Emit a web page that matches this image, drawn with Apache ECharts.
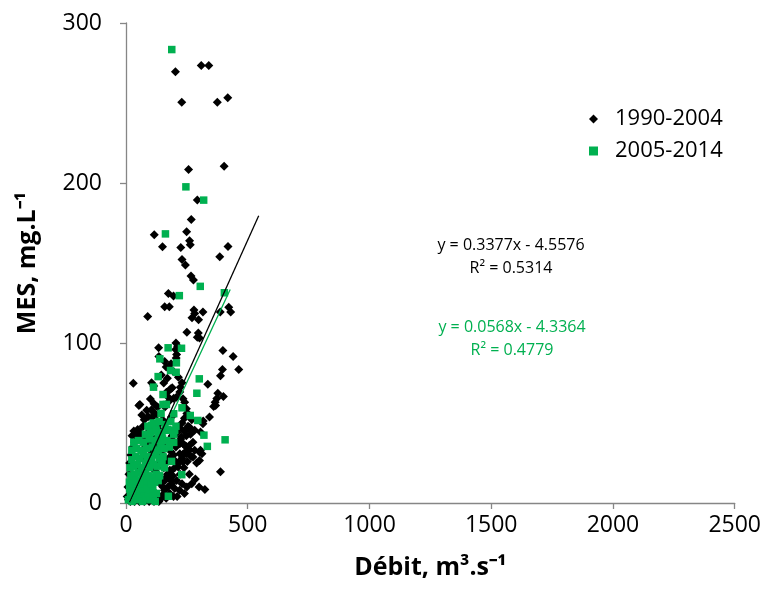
<!DOCTYPE html>
<html>
<head>
<meta charset="utf-8">
<script src="https://cdn.jsdelivr.net/npm/echarts@6/dist/echarts.min.js"></script>
<style>html,body{margin:0;padding:0;background:#fff;}#c{width:764px;height:591px;}</style>
</head>
<body>
<div id="c"></div>
<script>
// Series 1990-2004 (black diamonds): [débit, MES]
const series1990 = [
  [309,273.5],[340,273.5],[203,269.5],[229,250.4],[375,250.4],[418,253.3],[257,208.4],[403,210.5],
  [293,189.3],[268,177.2],[116,167.6],[249,169.5],[261,163.9],[264,161.4],[150,160.2],[225,159.7],[419,160.3],[385,153.9],
  [230,152.2],[244,148.7],[267,141.9],[277,139.4],[174,131],[195,129.4],[159,122.7],[178,122.7],[89,116.5],[279,120.6],
  [282,118.5],[316,119.4],[271,115.8],[298,114.6],[387,119.4],[422,122.3],[430,119.4],[250,106.7],[297,106.3],[293,103.6],
  [302,103.2],[134,97],[204,95.9],[208,92.8],[206,90.7],[159,88.4],[398,95.3],[440,91.5],[396,83.4],[463,83.4],[388,79.5],
  [215,78.6],[30,74.9],[105,75.1],[114,73.2],[336,74.2],[377,68.6],[400,66.6],[373,65.3],[366,63],[360,60.3],[368,61],
  [166,69.2],[179,70.7],[223,72.4],[230,75.1],[53,60.9],[180,64.1],[196,65.4],[105,58.3],[112,56.8],[187,53.7],[317,51.2],
  [256,46.8],[245,45.3],[312,30.8],[302,31.8],[248,35.3],[261,33.3],[234,30.5],[388,19.6],[300,10],[324,8.5],[133,3],[112,2],
  [135,91.5],[57,61.6],[306,44.3],[306,32.9],[91,54],[105,53.3],
  [184,71.4],[221,69.3],[207,66.1],[234,65.1],[241,63],[248,58.9],[255,55.8],[261,47.4],[282,45.4],[227,41.2],[221,37],
  [241,36],[255,32.9],[221,30.8],[200,26.6],[234,25.6],[214,22.5],[180,20.4],[166,16.2],[187,14.2],[152,10],[248,30.8],
  [275,28.7],[302,26.6],[316,49.5],[343,53.7],
  [25,42],[32,45],[40,43],[48,46],[55,41],[60,44],[35,38],[28,35],[45,39],[20,30],[15,25],[12,18],[8,10],[5,4],[10,2],
  [18,1],[25,3],[35,1],[45,2],[55,1],[65,3],[75,1],[85,2],[95,1],[105,3],[115,1],[125,2],[135,1],[145,3],
  [150,5],[158,8],[165,3],[172,10],[180,6],[188,12],[195,4],[160,14],[170,18],[178,15],[185,20],[192,17],[200,22],[208,14],
  [215,25],[222,18],[230,28],[238,22],[245,32],[252,26],[260,36],[268,29],[275,38],[282,33],[165,25],[175,28],[185,32],
  [195,30],[205,35],[215,38],[225,40],[235,37],[155,22],[150,30],[160,34],[170,36],[180,40],[190,42],[200,38],[210,44],
  [220,47],[230,50],[240,53],[250,56],[255,48],[265,43],[270,52],[248,42],[238,45],[290,25],[285,15],[270,12],[260,18],
  [250,10],[240,6],[230,12],[220,8],[210,4],[200,9],
  [95,38],[105,36],[115,40],[100,33],[110,30],[120,34],[130,38],[90,44],[140,50],[125,55],[130,60],[115,62],[100,65],
  [85,58],[75,52],[65,55],[70,48],[80,35],[60,28],[50,22],[40,15],[30,12],[70,20],[90,25],[80,12],[60,8],[100,15],
  [120,20],[135,25],[140,12],[110,8],
  [145,80],[155,75],[165,85],[185,87],[196,82],[205,100],[212,98],[170,78],[175,66],[190,72],[160,60],[140,45],[150,52],[86,40]
];

// Series 2005-2014 (green squares)
const series2005 = [
  [188,283.4],[246,197.6],[319,189.3],[162,168.2],[305,135.4],[219,129.6],[404,131.4],[173,97],[228,96.7],[139,90.1],
  [207,87.6],[183,82.8],[206,81.7],[132,79],[113,72.4],[301,77.6],[291,68.6],[152,67.8],[152,61.6],[166,61.6],[230,59.5],
  [144,56],[196,55.8],[264,54.7],[295,51.6],[105,48.5],[122,48.5],[166,45.4],[200,45.4],[132,40.8],[150,40],[196,37.9],
  [407,39.5],[334,35.4],[320,42.4],[148,26.4],[187,26],[229,17.7],[174,4.2],
  [10,2],[18,5],[25,1],[30,7],[38,3],[45,8],[52,2],[60,5],[68,1],[75,7],[82,3],[90,6],[98,2],[105,8],[112,4],[120,1],
  [125,6],[15,9],[40,10],[65,9],[88,10],[110,10],
  [14,13],[20,17],[28,12],[35,18],[42,14],[50,19],[58,12],[65,16],[72,13],[80,18],[88,14],[95,17],[102,12],[110,16],
  [118,13],[125,18],[132,14],[138,17],
  [17,22],[24,27],[32,23],[40,29],[48,24],[56,28],[64,22],[72,30],[80,25],[88,29],[96,22],[104,27],[112,24],[120,30],
  [128,23],[136,28],[144,25],[152,29],[158,22],
  [24,33],[32,38],[42,34],[52,39],[62,33],[72,38],[84,34],[96,40],[108,35],[120,39],[132,33],[144,37],[156,34],[168,39],[178,35],
  [80,43],[90,48],[100,44],[112,50],[124,45],[136,51],[148,44],[160,49],[172,46],[184,51],[196,43],[205,48]
];

// Trend lines (end points)
const trend1990 = [[15,0.5],[545,179.5]];
const trend2005 = [[20,0.5],[428,133.4]];

const seriesNames = ['1990-2004','2005-2014'];
const eq1990 = ['y = 0.3377x - 4.5576','R² = 0.5314'];
const eq2005 = ['y = 0.0568x - 4.3364','R² = 0.4779'];
const xTicks = {min:0,max:2500,interval:500};
const yTicks = {min:0,max:300,interval:100};

const FONT = '"Open Sans", "Liberation Sans", sans-serif';
const GREEN = '#00b050';
const chart = echarts.init(document.getElementById('c'), null, {renderer:'canvas'});
const axisCommon = {
  axisLine:{show:true,lineStyle:{color:'#868686',width:1.3}},
  axisTick:{show:true,inside:false,length:6,lineStyle:{color:'#868686',width:1.3}},
  splitLine:{show:false},
  axisLabel:{color:'#000',fontFamily:FONT,fontSize:23,formatter:function(v){return String(v);}},
  nameTextStyle:{color:'#000',fontFamily:FONT,fontSize:25,fontWeight:'bold'}
};
chart.setOption({
  animation:false,
  backgroundColor:'#fff',
  grid:{left:126,right:26,top:23,bottom:88,containLabel:false},
  legend:{
    orient:'vertical',left:584,top:103,itemWidth:9,itemHeight:9,itemGap:10,
    textStyle:{color:'#000',fontFamily:FONT,fontSize:22,padding:[0,0,0,12]},
    data:[{name:seriesNames[0],icon:'diamond'},{name:seriesNames[1],icon:'rect'}]
  },
  xAxis:Object.assign({},axisCommon,{
    type:'value',min:xTicks.min,max:xTicks.max,interval:xTicks.interval,
    name:'Débit, m³.s⁻¹',nameLocation:'middle',nameGap:52,
    axisLabel:Object.assign({},axisCommon.axisLabel,{margin:11})
  }),
  yAxis:Object.assign({},axisCommon,{
    type:'value',min:yTicks.min,max:yTicks.max,interval:yTicks.interval,
    name:'MES, mg.L⁻¹',nameLocation:'middle',nameGap:86,nameRotate:90,
    axisLabel:Object.assign({},axisCommon.axisLabel,{margin:24})
  }),
  graphic:[
    {type:'text',x:511,y:237,style:{text:eq1990[0],fill:'#000',font:'16px '+FONT,align:'center',textAlign:'center'}},
    {type:'text',x:511,y:260,style:{text:eq1990[1],fill:'#000',font:'16px '+FONT,align:'center',textAlign:'center'}},
    {type:'text',x:512,y:319,style:{text:eq2005[0],fill:GREEN,font:'16px '+FONT,align:'center',textAlign:'center'}},
    {type:'text',x:512,y:342,style:{text:eq2005[1],fill:GREEN,font:'16px '+FONT,align:'center',textAlign:'center'}}
  ],
  series:[
    {name:seriesNames[0],type:'scatter',symbol:'diamond',symbolSize:9,data:series1990,itemStyle:{color:'#000',opacity:1}},
    {name:seriesNames[1],type:'scatter',symbol:'rect',symbolSize:7.5,data:series2005,itemStyle:{color:GREEN,opacity:1}},
    {type:'line',data:trend1990,showSymbol:false,symbol:'none',lineStyle:{color:'#000',width:1.3},z:5},
    {type:'line',data:trend2005,showSymbol:false,symbol:'none',lineStyle:{color:GREEN,width:1.3},z:5}
  ]
});
</script>
</body>
</html>
